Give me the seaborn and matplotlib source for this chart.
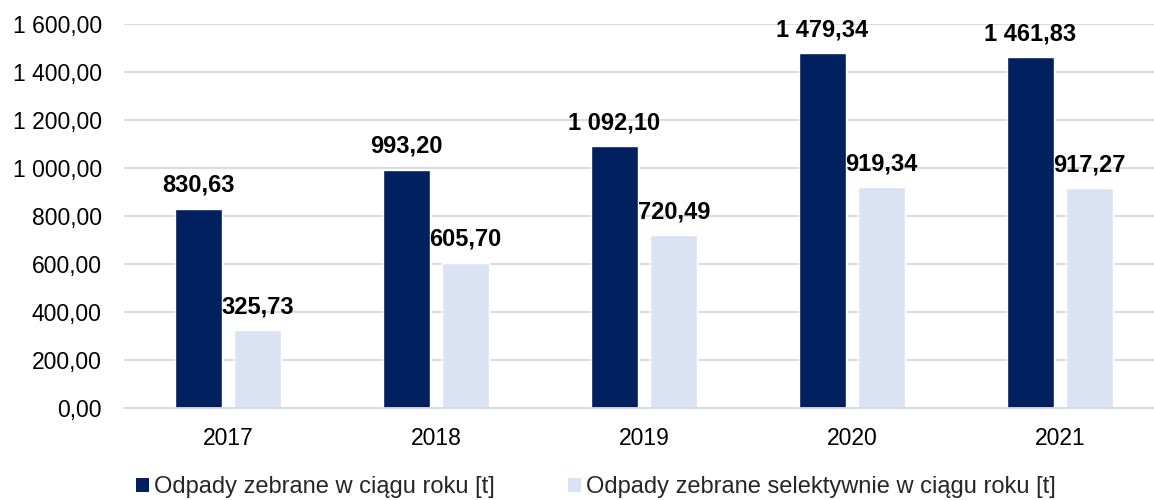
import matplotlib
matplotlib.use("Agg")
import matplotlib.pyplot as plt
import matplotlib.ticker as mticker
from matplotlib.patches import Patch
import seaborn as sns
import pandas as pd

years = ["2017", "2018", "2019", "2020", "2021"]
total = [830.63, 993.20, 1092.10, 1479.34, 1461.83]
selective = [325.73, 605.70, 720.49, 919.34, 917.27]
series_names = ["Odpady zebrane w ciągu roku [t]",
                "Odpady zebrane selektywnie w ciągu roku [t]"]
colors = ["#002060", "#DAE3F3"]

df = pd.DataFrame({
    "year": years * 2,
    "value": total + selective,
    "series": [series_names[0]] * len(years) + [series_names[1]] * len(years),
})

sns.set_theme(style="white")
plt.rcParams["font.family"] = ["Liberation Sans", "DejaVu Sans"]


def pl_fmt(v, pos=None):
    s = f"{v:,.2f}"
    return s.replace(",", " ").replace(".", ",")


fig = plt.figure(figsize=(11.54, 5.0), dpi=100)
ax = fig.add_axes([124 / 1154, 92 / 500, 1040 / 1154, 384 / 500])

sns.barplot(data=df, x="year", y="value", hue="series", order=years,
            hue_order=series_names, palette=colors, width=0.572, gap=0.217,
            saturation=1, ax=ax, legend=False, errorbar=None)

ax.set_ylim(0, 1600)
ax.yaxis.set_major_locator(mticker.MultipleLocator(200))
ax.yaxis.set_major_formatter(mticker.FuncFormatter(pl_fmt))
ax.grid(axis="y", color="#d9d9d9", linewidth=1.3)
ax.set_axisbelow(True)
for s in ["left", "right", "top"]:
    ax.spines[s].set_visible(False)
ax.spines["bottom"].set_color("#d9d9d9")
ax.spines["bottom"].set_linewidth(1.3)
ax.tick_params(axis="y", length=0, pad=16, labelsize=16.5, labelcolor="black")
ax.tick_params(axis="x", length=0, pad=14, labelsize=16.5, labelcolor="black")
ax.set_xlabel("")
ax.set_ylabel("")

for container in ax.containers:
    for bar in container:
        h = bar.get_height()
        ax.annotate(pl_fmt(h), (bar.get_x() + bar.get_width() / 2, h),
                    xytext=(0, 12), textcoords="offset points",
                    ha="center", va="baseline", fontsize=17,
                    fontweight="bold", color="black")

handles = [Patch(facecolor=c, edgecolor="none") for c in colors]
fig.legend(handles, series_names, loc="center", ncol=2,
           bbox_to_anchor=(596 / 1154, 1 - 487 / 500), frameon=False,
           fontsize=17, handlelength=0.55, handleheight=0.55,
           handletextpad=0.2, columnspacing=3.1)

fig.savefig("out.png", dpi=100)
